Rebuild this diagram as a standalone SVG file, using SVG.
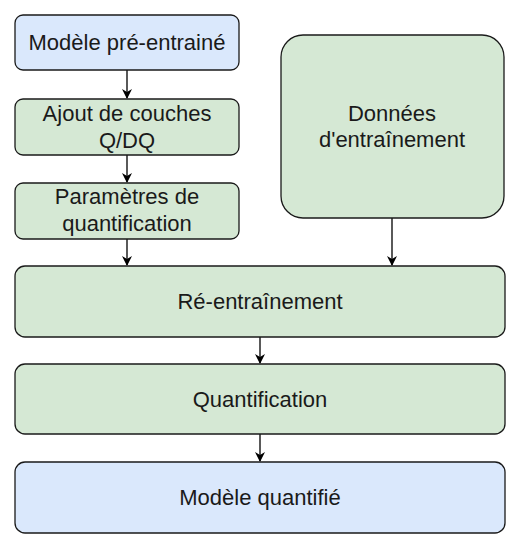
<svg xmlns="http://www.w3.org/2000/svg" width="520" height="548" viewBox="0 0 520 548">
<style>
.n{stroke:#1a1a1a;stroke-width:1.3}
.b{fill:#dae8fc}
.g{fill:#d5e8d4}
text{font-family:"Liberation Sans",Arial,sans-serif;font-size:22px;fill:#1a1a1a;text-anchor:middle}
.c{stroke:#000;stroke-width:1.3;fill:none}
</style>
<defs>
<marker id="a" markerWidth="10" markerHeight="10" refX="9" refY="5" orient="auto" markerUnits="userSpaceOnUse">
<path d="M0,0 L10,5 L0,10 L3,5 Z" fill="#000"/>
</marker>
</defs>
<g id="connectors">
<line class="c" x1="127" y1="70" x2="127" y2="98" marker-end="url(#a)"/>
<line class="c" x1="127" y1="155" x2="127" y2="182" marker-end="url(#a)"/>
<line class="c" x1="127" y1="239" x2="127" y2="265" marker-end="url(#a)"/>
<line class="c" x1="392" y1="218" x2="392" y2="265" marker-end="url(#a)"/>
<line class="c" x1="260" y1="337" x2="260" y2="363" marker-end="url(#a)"/>
<line class="c" x1="260" y1="434" x2="260" y2="461" marker-end="url(#a)"/>
</g>
<g id="modele-pre">
<rect class="n b" x="15" y="15" width="224" height="55" rx="8"/>
<text x="127" y="50">Modèle pré-entrainé</text>
</g>
<g id="ajout">
<rect class="n g" x="15" y="99" width="224" height="56" rx="8"/>
<text x="127" y="121">Ajout de couches</text>
<text x="127" y="148">Q/DQ</text>
</g>
<g id="parametres">
<rect class="n g" x="15" y="183" width="224" height="56" rx="8"/>
<text x="127" y="204">Paramètres de</text>
<text x="127" y="231">quantification</text>
</g>
<g id="donnees">
<rect class="n g" x="281" y="35" width="223" height="183" rx="22"/>
<text x="392" y="121">Données</text>
<text x="392" y="147">d'entraînement</text>
</g>
<g id="reentrainement">
<rect class="n g" x="15" y="266" width="490" height="71" rx="10"/>
<text x="260" y="309">Ré-entraînement</text>
</g>
<g id="quantification">
<rect class="n g" x="15" y="364" width="490" height="70" rx="10"/>
<text x="260" y="407">Quantification</text>
</g>
<g id="modele-quant">
<rect class="n b" x="15" y="462" width="490" height="71" rx="10"/>
<text x="260" y="505">Modèle quantifié</text>
</g>
</svg>
